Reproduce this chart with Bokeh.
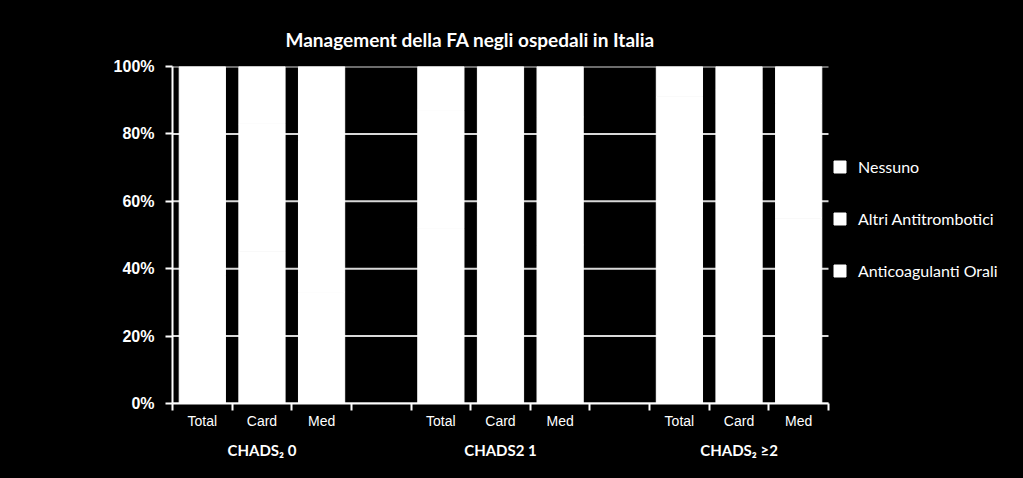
from bokeh.plotting import figure
from bokeh.models import (Range1d, FixedTicker, LinearAxis, Legend, LegendItem,
                          ColumnDataSource)
from bokeh.embed import file_html
from bokeh.resources import INLINE

# ---- data ----
categories = ["Total", "Card", "Med", "", "Total", "Card", "Med", "", "Total", "Card", "Med"]
groups = ["CHADS\u2082 0", "CHADS2 1", "CHADS\u2082 \u22652"]
group_pos = [1, 5, 9]
series = ["Anticoagulanti Orali", "Altri Antitrombotici", "Nessuno"]
anticoag = [38, 45, 33, 0, 52, 58, 47, 0, 60, 66, 55]
altri = [42, 38, 45, 0, 35, 31, 38, 0, 31, 27, 34]
nessuno = [20, 17, 22, 0, 13, 11, 15, 0, 9, 7, 11]
y_ticks = [0, 20, 40, 60, 80, 100]
y_labels = ["0%", "20%", "40%", "60%", "80%", "100%"]

# ---- layout constants (pixels) ----
W, H = 1023, 478
AX_LEFT, AX_RIGHT, AX_TOP, AX_BOTTOM = 172, 828, 66, 403

n = len(categories)
slot_px = (AX_RIGHT - AX_LEFT) / n
x_end = -0.5 + (W - AX_LEFT) / slot_px

xs = list(range(n))
src = ColumnDataSource(dict(x=xs, a=anticoag, b=altri, c=nessuno))

p = figure(width=W, height=H, output_backend="svg", toolbar_location=None,
           x_range=Range1d(-0.5, x_end), y_range=Range1d(0, 100),
           x_axis_location=None, y_axis_location=None)
p.min_border_left = AX_LEFT
p.min_border_right = 0
p.min_border_top = AX_TOP
p.min_border_bottom = H - AX_BOTTOM
p.background_fill_color = "black"
p.border_fill_color = "black"
p.outline_line_color = None
p.xgrid.visible = False
p.ygrid.visible = False

# grid lines limited to the category area
p.segment(x0=[-0.5] * len(y_ticks), x1=[n - 0.5] * len(y_ticks), y0=y_ticks, y1=y_ticks,
          line_color="#d8d8d8", line_width=2)

r = p.vbar_stack(["a", "b", "c"], x="x", width=0.775, source=src,
                 fill_color=["white", "white", "white"],
                 line_color=["white", "white", "white"], line_width=1)

# y axis
ya = LinearAxis(ticker=FixedTicker(ticks=y_ticks),
                major_label_overrides={t: l for t, l in zip(y_ticks, y_labels)})
ya.axis_line_color = "white"
ya.axis_line_width = 2
ya.major_tick_line_color = "white"
ya.major_tick_line_width = 2
ya.major_tick_out = 7
ya.major_tick_in = 0
ya.minor_tick_line_color = None
ya.major_label_text_color = "white"
ya.major_label_text_font = "Liberation Sans"
ya.major_label_text_font_style = "bold"
ya.major_label_text_font_size = "16px"
ya.major_label_standoff = 11
p.add_layout(ya, "left")

# x axis (categories)
cat_ticks = [i for i, c in enumerate(categories) if c]
bounds = [i - 0.5 for i in range(n + 1)]
xa = LinearAxis(ticker=FixedTicker(ticks=cat_ticks, minor_ticks=bounds),
                major_label_overrides={i: categories[i] for i in cat_ticks},
                bounds=(-0.5, n - 0.5))
xa.axis_line_color = "white"
xa.axis_line_width = 2
xa.major_tick_line_color = None
xa.major_tick_out = 7
xa.major_tick_in = 0
xa.minor_tick_line_color = "white"
xa.minor_tick_line_width = 2
xa.minor_tick_out = 7
xa.minor_tick_in = 0
xa.major_label_text_color = "white"
xa.major_label_text_font = "Liberation Sans"
xa.major_label_text_font_size = "14px"
xa.major_label_standoff = 2
p.add_layout(xa, "below")

# x axis (groups)
ga = LinearAxis(ticker=FixedTicker(ticks=group_pos),
                major_label_overrides={g: t for g, t in zip(group_pos, groups)})
ga.axis_line_color = None
ga.major_tick_line_color = None
ga.minor_tick_line_color = None
ga.major_tick_out = 0
ga.major_tick_in = 0
ga.major_label_text_color = "white"
ga.major_label_text_font = "Lato"
ga.major_label_text_font_style = "bold"
ga.major_label_text_font_size = "15px"
ga.major_label_standoff = 9
p.add_layout(ga, "below")

# title
p.title.text = "Management della FA negli ospedali in Italia"
p.title.text_color = "white"
p.title.text_font = "Lato"
p.title.text_font_style = "bold"
p.title.text_font_size = "19px"
p.title.align = "left"
p.title.offset = 113
p.title.standoff = 31

# legend
items = [LegendItem(label=series[i], renderers=[r[i]]) for i in (2, 1, 0)]
leg = Legend(items=items, location=(832 - AX_LEFT, 123))
leg.background_fill_alpha = 0
leg.border_line_color = None
leg.padding = 0
leg.margin = 0
leg.glyph_width = 15
leg.glyph_height = 15
leg.label_height = 15
leg.spacing = 33
leg.label_standoff = 11
leg.label_text_color = "white"
leg.label_text_font = "Lato"
leg.label_text_font_size = "16px"
p.add_layout(leg, "center")

html = file_html(p, INLINE)
html = html.replace("</head>", "<style>html,body{background:#000000;}</style></head>", 1)
open("out.html", "w").write(html)
